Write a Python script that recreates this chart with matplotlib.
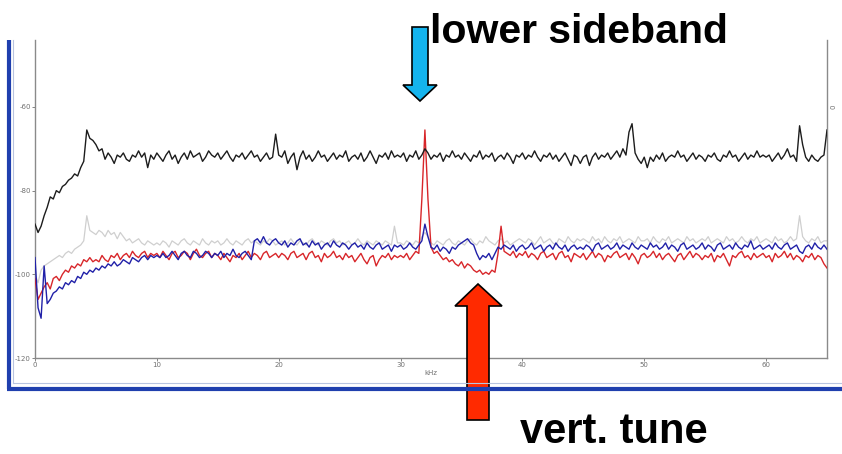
import numpy as np
import matplotlib
matplotlib.use("Agg")
import matplotlib.pyplot as plt
from matplotlib.patches import Polygon

plt.rcParams["axes.unicode_minus"] = False

# frequency bins, kHz (0.25 kHz steps, 0..65)
freq_khz = np.linspace(0, 65, 261)

# upper trace (black), dB
black_db = [
    -88, -90, -88.5, -86, -84, -81.5, -82, -80, -80.5, -79, -78.5, -77.5, -77, -76, -76.5, -74.5, -73, -65.5, -67.5, -68,
    -69, -70.5, -70, -72.5, -71, -72, -73.5, -71.5, -72, -71, -72.5, -73, -71.5, -72, -70.5, -72, -71, -74.5, -71.5, -72.5,
    -71, -72, -73, -71.5, -70.5, -72.5, -71.5, -73.5, -72, -71, -72.5, -70.5, -72, -71.5, -71, -73, -72, -70.5, -71.5, -72,
    -71, -72.5, -71.5, -70.5, -72, -73, -71.5, -72, -71, -72.5, -71.5, -70.5, -72, -71.5, -73, -72, -71, -72.5, -72, -66.5,
    -71.5, -72, -70.5, -73.5, -72, -71, -75, -72, -70.5, -72.5, -71.5, -73, -72, -70.5, -72, -71.5, -73, -72, -71, -72.5,
    -71.5, -72, -70.5, -73, -72, -71.5, -72.5, -71, -73, -72, -70.5, -72, -73.5, -71.5, -72, -71, -72.5, -70.5, -72, -71.5,
    -72, -71, -73, -71.5, -72, -70.5, -72.5, -71.5, -70, -71, -72.5, -71.5, -72, -71, -73, -71.5, -72, -70.5, -72, -71.5,
    -72.5, -71, -72, -73, -71.5, -72, -70.5, -72.5, -71.5, -72, -71, -73, -72, -71.5, -72.5, -71, -72, -73.5, -71.5, -72,
    -71, -72.5, -71.5, -72, -70.5, -72, -73, -71.5, -72, -71, -72.5, -71.5, -73, -72, -71, -72.5, -74, -71.5, -72, -73.5,
    -72, -71.5, -74, -72, -71, -72.5, -71.5, -72, -71, -72.5, -71.5, -70.5, -72, -70, -71.5, -66, -64, -71, -72.5, -73.5,
    -72, -74.5, -72, -73, -71.5, -72.5, -71, -73, -72, -71.5, -72, -70.5, -72, -71.5, -73, -72, -71, -72.5, -71.5, -72,
    -73, -71.5, -72, -71, -72.5, -73, -71.5, -72, -70.5, -72, -71.5, -73, -72, -71, -72.5, -71.5, -72, -70.5, -72, -71.5,
    -72, -71.5, -73, -72, -71, -72.5, -71.5, -70, -72, -71.5, -73, -64.5, -69, -72, -73, -71.5, -72.5, -73, -72, -71.5,
    -65.5,
]

# lower traces, dB
red_db = [
    -101, -106, -104.5, -103, -102, -103.5, -101, -100.5, -101.5, -100, -99, -99.5, -98, -98.5, -97.5, -98, -96.5, -97, -96, -97,
    -96.5, -97, -95.5, -96.5, -97, -95.5, -96, -95, -96.5, -95.5, -95, -96, -94.5, -95.5, -96, -95, -94.5, -96, -95, -95.5,
    -95, -96, -94.5, -95.5, -96.5, -95, -94.5, -96, -95.5, -94.5, -95, -96.5, -95, -94, -95.5, -96, -95, -94.5, -96, -95,
    -95.5, -96.5, -95, -96, -97, -95.5, -96, -95, -96.5, -95.5, -94.5, -96, -95, -95.5, -96.5, -95, -94.5, -96, -95.5, -95,
    -96, -95, -95.5, -96.5, -95, -94.5, -96, -95.5, -95, -96.5, -95, -94.5, -96, -95.5, -97, -95, -96, -95.5, -94.5, -96,
    -95.5, -96.5, -95, -96, -95.5, -97, -96, -95, -96.5, -97.5, -96, -95.5, -98, -96.5, -95.5, -96, -95, -96.5, -95.5, -96,
    -95.5, -96, -95, -96.5, -95.5, -94.5, -95, -82, -65.5, -82, -93.5, -95, -94.5, -95.5, -96.5, -96, -97, -96.5, -97.5, -98,
    -97, -98.5, -97.5, -98, -99, -99.5, -99, -100, -99.5, -100, -99, -99.5, -95, -88.5, -94.5, -95, -95.5, -94.5, -96, -95,
    -95.5, -94.5, -96, -95, -95.5, -96.5, -95, -94.5, -96, -95.5, -95, -96.5, -95, -94.5, -96, -95.5, -97, -95, -95.5, -96,
    -95, -96.5, -95.5, -94.5, -96, -95, -95.5, -97, -95.5, -96, -95, -94.5, -96, -95.5, -95, -96.5, -95, -96, -97.5, -95.5,
    -95, -96, -95.5, -94.5, -96, -95, -96.5, -95.5, -95, -96, -97, -95.5, -95, -96.5, -95.5, -94.5, -96, -95, -95.5, -96.5,
    -95.5, -96, -95, -97, -95.5, -96, -95, -96.5, -98, -95.5, -96, -95, -94.5, -96, -95.5, -96.5, -95, -96, -95.5, -95,
    -96, -95.5, -97, -95, -96, -95.5, -94.5, -96, -95, -96.5, -95.5, -96, -97, -95.5, -96, -95, -96.5, -95.5, -96, -97.5,
    -98.5,
]

blue_db = [
    -96, -108, -110.5, -98, -107, -106, -104.5, -104, -103, -103.5, -102, -102.5, -101.5, -102, -100.5, -101, -99.5, -100, -99, -99.5,
    -98.5, -99, -98, -98.5, -97.5, -98, -97, -98, -97.5, -96.5, -97, -97.5, -96, -96.5, -97, -96, -95.5, -96.5, -95.5, -96,
    -95.5, -96, -95, -96, -95.5, -94.5, -95.5, -96.5, -95, -94.5, -95.5, -96, -94.5, -95, -96, -95.5, -94.5, -95, -96, -95,
    -95.5, -94.5, -96, -95, -95.5, -94, -95.5, -96, -95, -94.5, -95.5, -96.5, -92, -91.5, -92.5, -91, -92.5, -93, -92, -91.5,
    -92.5, -93, -92, -93.5, -92.5, -93, -92, -91.5, -93, -92.5, -93.5, -92, -93, -92.5, -94, -93, -92.5, -93.5, -92, -93,
    -93.5, -92.5, -93, -94, -93, -92.5, -93.5, -93, -94, -92.5, -93.5, -94, -93, -92.5, -94, -93.5, -93, -94.5, -93, -93.5,
    -93, -94, -93.5, -92.5, -93.5, -94, -93, -92, -88, -91, -93.5, -94, -93, -94.5, -93.5, -94, -95, -93.5, -94, -93,
    -92.5, -92, -91.5, -92.5, -93, -95, -96.5, -95.5, -96, -95, -96.5, -95, -93.5, -94, -93, -93.5, -94, -93, -94.5, -93.5,
    -93, -94, -93.5, -92.5, -94, -93.5, -93, -94.5, -93.5, -93, -94, -92.5, -93.5, -94, -93, -94.5, -93.5, -93, -94, -93.5,
    -94, -93, -93.5, -94.5, -93, -92.5, -94, -93.5, -93, -94, -93.5, -92.5, -94, -93, -93.5, -94, -92.5, -93.5, -94, -93,
    -93.5, -94, -92.5, -93.5, -93, -94, -93.5, -92.5, -94, -93, -93.5, -94.5, -93, -92.5, -94, -93.5, -93, -94, -93.5, -92.5,
    -94, -93, -93.5, -94.5, -93, -92.5, -94, -93.5, -93, -94, -92.5, -93.5, -94, -93, -93.5, -92, -94, -93.5, -93, -94,
    -93.5, -93, -94, -92.5, -93.5, -94, -93, -92.5, -94, -93.5, -93, -94.5, -95, -93.5, -93, -94, -92.5, -93.5, -94, -93,
    -94,
]

gray_db = [
    -100, -102, -99, -98, -97.5, -97, -96.5, -96, -95.5, -96, -95, -94.5, -95, -94, -93.5, -93, -92, -86, -89.5, -90,
    -90.5, -89.5, -90, -91, -89.5, -90.5, -90, -91.5, -90, -91, -92, -91.5, -92.5, -92, -91.5, -92.5, -93, -92, -92.5, -93,
    -92.5, -93, -92, -92.5, -93.5, -92, -92.5, -93, -92, -91.5, -92.5, -93, -92, -92.5, -93, -91.5, -92.5, -93, -92, -92.5,
    -92, -93, -92.5, -91.5, -92.5, -93, -92, -92.5, -93, -92, -91.5, -92.5, -92, -92.5, -93, -92, -92.5, -91.5, -92, -93,
    -92.5, -92, -93, -92.5, -91.5, -92.5, -93, -92, -92.5, -93, -92, -91.5, -92.5, -93, -92, -92.5, -93, -92, -91.5, -92.5,
    -92, -93, -92.5, -92, -93, -92.5, -91.5, -92.5, -93, -92, -92.5, -93, -92, -92.5, -93, -92, -92.5, -93, -88.5, -92.5,
    -92.5, -93, -92, -92.5, -93, -92, -92.5, -91, -90, -91, -92.5, -93, -92, -92.5, -93, -92, -91.5, -92.5, -93, -92,
    -92.5, -93, -92, -91.5, -92.5, -93, -92, -92.5, -91, -92, -92.5, -93, -92, -91.5, -92.5, -92, -93, -92.5, -92, -91.5,
    -92, -92.5, -91.5, -92, -93, -92, -91, -92.5, -92, -91.5, -92.5, -93, -91.5, -92, -92.5, -91, -92, -92.5, -91.5, -92,
    -91.5, -92, -92.5, -91, -92, -91.5, -92.5, -91, -92, -92.5, -91.5, -92, -91, -92.5, -92, -91.5, -92, -92.5, -91, -92,
    -92, -91.5, -92.5, -91, -92, -92.5, -91.5, -92, -91, -92.5, -92, -91.5, -92, -92.5, -91, -92, -91.5, -92.5, -92, -91.5,
    -92, -91, -92.5, -92, -91.5, -92, -92.5, -91, -92, -91.5, -92.5, -92, -91, -92, -92.5, -91.5, -92, -91, -92.5, -92,
    -91.5, -92, -92.5, -91, -92, -91.5, -92.5, -92, -91, -92, -91.5, -86, -91, -92, -92.5, -91.5, -92, -91, -92.5, -92,
    -92,
]

x_ticks = [0, 10, 20, 30, 40, 50, 60]
y_ticks = [-120, -100, -80, -60]

W, H = 842, 454
fig = plt.figure(figsize=(W / 100, H / 100), dpi=100)
fig.patch.set_facecolor("white")

# main spectrum axes, placed in pixel terms
left, right, top, bottom = 35, 827, 40, 358
ax = fig.add_axes([left / W, 1 - bottom / H, (right - left) / W, (bottom - top) / H])

ax.plot(freq_khz, gray_db, color="#cfcfcf", lw=0.9, zorder=2)
ax.plot(freq_khz, red_db, color="#d8262a", lw=1.0, zorder=3)
ax.plot(freq_khz, blue_db, color="#2020a8", lw=1.0, zorder=4)
ax.plot(freq_khz, black_db, color="#1c1c1c", lw=1.0, zorder=5)

ax.set_xlim(0, 65)
ax.set_ylim(-120, -44)
ax.set_xticks(x_ticks)
ax.set_yticks(y_ticks)
ax.tick_params(labelsize=5, colors="#707070", length=2, width=0.6, pad=1)
ax.set_xlabel("kHz", fontsize=5, color="#707070", labelpad=1)
for side in ["left", "bottom", "right"]:
    ax.spines[side].set_color("#8a8a8a")
    ax.spines[side].set_linewidth(1.0)
ax.spines["top"].set_visible(False)

# overlay in pixel coordinates for the frame, arrows and captions
ov = fig.add_axes([0, 0, 1, 1])
ov.set_xlim(0, W)
ov.set_ylim(H, 0)
ov.axis("off")

ov.plot([9, 9], [40, 389], color="#1f3fae", lw=3, solid_capstyle="butt")
ov.plot([7, W], [389, 389], color="#1f3fae", lw=3, solid_capstyle="butt")
ov.plot([13, 13], [40, 383], color="#b8c4e0", lw=0.8)
ov.plot([13, W], [383, 383], color="#b8c4e0", lw=0.8)

ov.text(833, 107, "0", fontsize=5, color="#707070", rotation=90, ha="center", va="center")

blue_arrow = Polygon([(412, 27), (428, 27), (428, 85), (437, 85), (420, 101),
                      (403, 85), (412, 85)], closed=True,
                     facecolor="#14b4ee", edgecolor="black", lw=1.2)
red_arrow = Polygon([(467, 420), (489, 420), (489, 306), (502, 306), (478, 284),
                     (455, 306), (467, 306)], closed=True,
                    facecolor="#ff2a00", edgecolor="black", lw=1.2)
ov.add_patch(blue_arrow)
ov.add_patch(red_arrow)

ov.text(430, 43, "lower sideband", fontsize=29.5, fontweight="bold",
        family="Liberation Sans", ha="left", va="baseline")
ov.text(520, 443, "vert. tune", fontsize=30, fontweight="bold",
        family="Liberation Sans", ha="left", va="baseline")

fig.savefig("out.png", dpi=100)
